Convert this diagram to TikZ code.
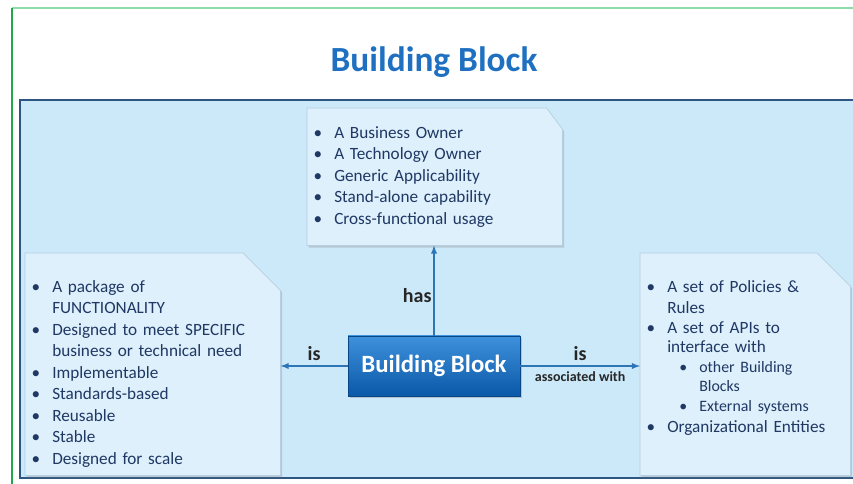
\documentclass[tikz,border=0pt]{standalone}
\usepackage{fontspec}
\setmainfont{Carlito}
\usepackage{enumitem}
\usepackage{xcolor}
\usetikzlibrary{positioning}
\usetikzlibrary{shadows}
\usetikzlibrary{calc}

\definecolor{panelblue}{RGB}{204,233,249}
\definecolor{paneledge}{RGB}{47,85,130}
\definecolor{boxblue}{RGB}{221,240,251}
\definecolor{boxedge}{RGB}{183,207,224}
\definecolor{listnavy}{RGB}{31,56,100}
\definecolor{arrowblue}{RGB}{46,117,182}
\definecolor{titleblue}{RGB}{31,112,193}
\definecolor{blocktop}{RGB}{62,145,220}
\definecolor{blockbottom}{RGB}{10,88,168}
\definecolor{frameline}{RGB}{34,168,74}
\definecolor{frametop}{RGB}{143,220,170}

\setlist[itemize,1]{leftmargin=20.25pt,labelsep=9pt,itemsep=0pt,parsep=0pt,topsep=0pt,partopsep=0pt,label=\textbullet}
\setlist[itemize,2]{leftmargin=24pt,labelsep=9pt,itemsep=0pt,parsep=0pt,topsep=0pt,partopsep=0pt,label=\textbullet,before=\fontsize{11.9}{14.6}\selectfont}

\begin{document}
\begin{tikzpicture}[x=0.75pt,y=0.75pt,yscale=-1,xscale=1,
  area/.style={inner sep=0pt, anchor=north west},
  boxfill/.style={fill=boxblue, draw=boxedge, line width=0.5pt,
    drop shadow={shadow xshift=1.2pt, shadow yshift=-1.5pt, opacity=0.3}},
  listtext/.style={anchor=north west, inner sep=0pt, align=left, text=listnavy,
    font=\fontsize{12.9}{16.1}\selectfont},
  link/.style={draw=arrowblue, line width=1.1pt, -latex},
  linklabel/.style={font=\fontsize{15}{18}\selectfont\bfseries, text=black!85},
  bblock/.style={minimum width=129pt, minimum height=45pt, inner sep=0pt,
    top color=blocktop, bottom color=blockbottom, draw=blockbottom!80!black,
    text=white, font=\fontsize{18.6}{22}\selectfont\bfseries,
    drop shadow={shadow xshift=1.2pt, shadow yshift=-1.5pt, opacity=0.35}}]
\useasboundingbox (0,0) rectangle (853,484);
%Frame lines
\draw [frametop, line width=1pt] (12,8) -- (853,8) ;
\draw [frameline, line width=1.5pt] (12,8) -- (12,484) ;
% Title
\node [font=\fontsize{26.5}{30}\selectfont\bfseries, text=titleblue] (title) at (434,62) {Building Block};
%Panel
\draw [fill=panelblue, draw=paneledge, line width=1.2pt] (20,100) rectangle (860,478) ;
%Box areas
\node [area, minimum width=191.25pt, minimum height=102.75pt] (ownerbox) at (307,108) {};
\node [area, minimum width=191.25pt, minimum height=166.5pt] (packagebox) at (25,253) {};
\node [area, minimum width=157.5pt, minimum height=166.5pt] (assocbox) at (640,253) {};
%Snipped boxes (yshift runs downward here)
\path [boxfill] (ownerbox.north west) -- ([xshift=-12pt]ownerbox.north east) -- ([yshift=16pt]ownerbox.north east) -- (ownerbox.south east) -- (ownerbox.south west) -- cycle ;
\path [boxfill] (packagebox.north west) -- ([xshift=-28pt]packagebox.north east) -- ([yshift=28pt]packagebox.north east) -- (packagebox.south east) -- (packagebox.south west) -- cycle ;
\path [boxfill] (assocbox.north west) -- ([xshift=-25pt]assocbox.north east) -- ([yshift=25pt]assocbox.north east) -- (assocbox.south east) -- (assocbox.south west) -- cycle ;
% Text Node
\node [listtext, text width=185pt] (ownerlist) at ([yshift=6.5pt]ownerbox.north west) {%
\begin{itemize}
\item A Business Owner
\item A Technology Owner
\item Generic Applicability
\item Stand-alone capability
\item Cross-functional usage
\end{itemize}};
% Text Node
\node [listtext, text width=185pt] (packagelist) at ([yshift=13.2pt]packagebox.north west) {%
\begin{itemize}
\item A package of\newline FUNCTIONALITY
\item Designed to meet SPECIFIC\newline business or technical need
\item Implementable
\item Standards-based
\item Reusable
\item Stable
\item Designed for scale
\end{itemize}};
% Text Node
\node [listtext, text width=155pt] (assoclist) at ([yshift=13.2pt]assocbox.north west) {%
\begin{itemize}
\item A set of Policies \&\newline Rules
\item A set of APIs to\newline interface with
\begin{itemize}
\item other Building\newline Blocks
\item External systems
\end{itemize}
\item Organizational Entities
\end{itemize}};
%Center block
\node [bblock] (block) at (434,366) {Building Block};
%Straight Lines
\draw [link] (block.north) -- (block.north |- ownerbox.south) node [linklabel, pos=0.45, anchor=east, xshift=2pt] (haslabel) {has};
\draw [link] (block.west) -- (block.west -| packagebox.east) node [linklabel, midway, above] (islabel) {is};
\draw [link] (block.east) -- (block.east -| assocbox.west) node [linklabel, midway, above] (assoclabel) {is}
  node [midway, below, font=\fontsize{10.5}{12}\selectfont\bfseries, text=black!85] (withlabel) {associated with};
\end{tikzpicture}
\end{document}
